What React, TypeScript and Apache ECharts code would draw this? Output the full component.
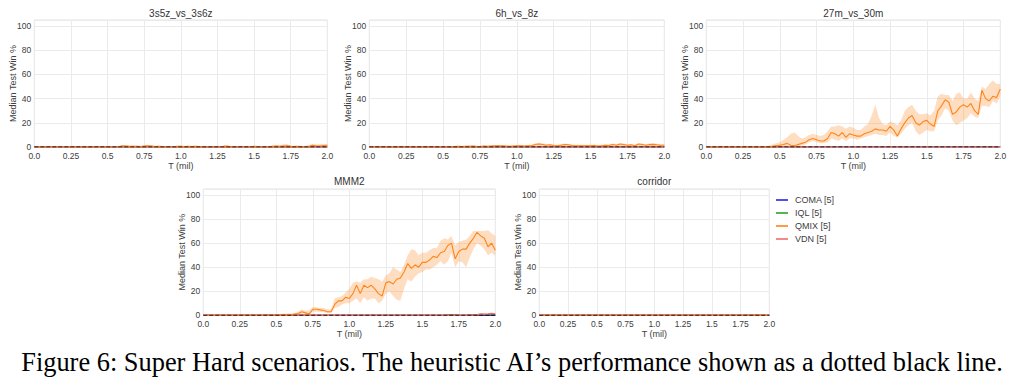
import React, { useEffect, useRef } from "react";
import * as echarts from "echarts";

// ---- data ----
// time axis (million steps), 0.025 spacing
const T_MIL: number[] = Array.from({ length: 81 }, (_, i) => +(i * 0.025).toFixed(3));
const X_TICKS = [0, 0.25, 0.5, 0.75, 1.0, 1.25, 1.5, 1.75, 2.0];
const Y_TICKS = [0, 20, 40, 60, 80, 100];

const PANELS = ["3s5z_vs_3s6z", "6h_vs_8z", "27m_vs_30m", "MMM2", "corridor"];
const ALGOS = ["COMA [5]", "IQL [5]", "QMIX [5]", "VDN [5]"];
const HEURISTIC = [0, 0];

// flat series at zero (these algorithms never win)
const FLAT: number[] = new Array(81).fill(0);

// QMIX median / band per scenario
const QMIX_3S5Z = [
  0, 0, 0, 0, 0, 0, 0, 0, 0, 0,
  0.3, 0, 0, 0, 0, 0, 0, 0, 0, 0,
  0.3, 0, 0, 0, 1, 0.8, 0.5, 0.5, 0.5, 0.3,
  0.7, 1, 0.8, 0.3, 0.5, 0.3, 0, 0, 0, 0.5,
  0.5, 0.3, 0.5, 0.3, 0.5, 0.3, 0, 0, 0, 0,
  0, 0, 0.7, 0.5, 0, 0, 0, 0, 0, 0,
  0.5, 0.3, 0, 0, 0, 0.5, 0.7, 0.5, 0.8, 1,
  0.5, 0.3, 0.5, 0, 0.3, 0.5, 1.5, 1, 0.8, 1.2,
  1.5,
];
const QMIX_3S5Z_HI = [
  0, 0, 0, 0, 0, 0, 0, 0, 0, 0.3,
  0.6, 0.3, 0, 0, 0, 0, 0, 0, 0, 0.3,
  0.6, 0.3, 0, 0.5, 1.6, 1.4, 1, 1, 1, 0.8,
  1.3, 1.6, 1.4, 0.8, 1, 0.8, 0.4, 0.3, 0.5, 1,
  1, 0.8, 1, 0.8, 1, 0.8, 0.3, 0.3, 0.3, 0.5,
  0.5, 0.5, 1.3, 1, 0.5, 0.3, 0.3, 0.3, 0.3, 0.5,
  1, 0.8, 0.5, 0.5, 0.8, 1.2, 1.4, 1.5, 2.2, 2.5,
  1.5, 1, 1.3, 0.8, 1, 1.5, 2.5, 2, 2.2, 2.5,
  2.5,
];
const QMIX_6H = [
  0, 0, 0, 0, 0, 0, 0, 0, 0, 0,
  0, 0, 0, 0, 0, 0, 0, 0, 0, 0,
  0, 0, 0.2, 0.3, 0.5, 0.3, 0.5, 0.5, 0.8, 0.5,
  0.3, 0.8, 0.5, 0.8, 1, 1, 1, 0.8, 0.5, 0.8,
  1, 1, 0.8, 1, 1, 2, 2.5, 2, 1.5, 1.8,
  1.2, 1, 1.5, 2, 1.8, 1.2, 1, 1, 1, 1,
  1, 1.2, 0.8, 1, 1.5, 1.2, 2, 1.5, 2.5, 2,
  1.5, 1.8, 1, 2.5, 2, 1.5, 2, 2.2, 1.8, 1.5,
  1.5,
];
const QMIX_6H_HI = [
  0, 0, 0, 0, 0, 0, 0, 0, 0, 0,
  0, 0, 0, 0, 0, 0, 0, 0, 0, 0,
  0, 0.3, 0.5, 0.8, 1, 0.8, 1, 1, 1.3, 1,
  0.8, 1.3, 1, 1.3, 1.6, 1.6, 1.5, 1.3, 1, 1.3,
  1.6, 1.6, 1.4, 1.6, 1.8, 3, 3.5, 3, 2.5, 2.5,
  2, 1.8, 2.2, 2.8, 2.5, 2, 1.8, 1.8, 1.8, 1.8,
  1.8, 2, 1.5, 1.8, 2.2, 2, 2.8, 2.5, 3.2, 2.8,
  2.3, 2.5, 1.8, 3.2, 2.8, 2.3, 2.8, 3, 2.6, 2.3,
  2.3,
];
const QMIX_27M = [
  0, 0, 0, 0, 0, 0, 0, 0, 0, 0,
  0, 0, 0, 0, 0, 0, 0, 0, 0.5, 1,
  1.5, 2, 3, 1.5, 1, 2, 3, 4, 6, 7,
  6, 5, 5, 7, 12, 11, 9, 12, 8, 11,
  10, 9, 9, 11, 12, 13, 15, 14, 14, 13,
  17, 14, 9, 15, 20, 24, 26, 20, 18, 21,
  22, 19, 17, 30, 34, 39, 37, 27, 29, 33,
  35, 33, 36, 30, 27, 47, 40, 38, 42, 41,
  48,
];
const QMIX_27M_HI = [
  0, 0, 0, 0, 0, 0, 0, 0, 0, 0,
  0, 0, 0, 0, 0, 0, 0.5, 1, 2, 3,
  4, 6, 8, 11, 12, 9, 7, 8, 10, 11,
  10, 9, 10, 13, 17, 17, 18, 17, 15, 17,
  16, 14, 14, 17, 19, 26, 35, 24, 19, 18,
  21, 20, 18, 22, 30, 33, 35, 30, 27, 27,
  28, 26, 30, 42, 44, 43, 43, 38, 44, 45,
  40, 40, 45, 40, 38, 50, 48, 52, 55, 52,
  52,
];
const QMIX_27M_LO = [
  0, 0, 0, 0, 0, 0, 0, 0, 0, 0,
  0, 0, 0, 0, 0, 0, 0, 0, 0, 0,
  0, 0.5, 1, 0, 0, 0.5, 1, 2, 4, 5,
  4, 3, 3, 4, 7, 6, 5, 7, 5, 7,
  7, 6, 7, 8, 9, 10, 11, 10, 10, 9,
  12, 9, 8, 11, 15, 18, 20, 13, 10, 12,
  14, 13, 13, 22, 26, 32, 30, 22, 18, 20,
  22, 24, 28, 25, 24, 34, 34, 33, 38, 36,
  42,
];
const QMIX_MMM2 = [
  0, 0, 0, 0, 0, 0, 0, 0, 0, 0,
  0, 0, 0, 0, 0, 0, 0, 0, 0, 0,
  0, 0.3, 0.5, 0.5, 0.5, 1, 1.5, 3, 2, 1,
  5, 5, 4.5, 4, 3, 3, 9, 12, 12, 15,
  14, 18, 25, 18, 25, 23, 25, 22, 18, 16,
  27, 28, 26, 30, 31, 36, 43, 39, 42, 40,
  44, 44, 46, 49, 48, 52, 53, 58, 60, 47,
  53, 55, 55, 60, 64, 69, 66, 64, 57, 60,
  54,
];
const QMIX_MMM2_HI = [
  0, 0, 0, 0, 0, 0, 0, 0, 0, 0,
  0, 0, 0, 0, 0, 0, 0.5, 1, 1, 1,
  1, 1, 1.5, 1.5, 1.5, 2, 3, 5, 4, 4,
  7, 7, 6, 6, 5, 5, 14, 15, 16, 19,
  22, 27, 28, 27, 30, 30, 32, 31, 30, 28,
  33, 35, 40, 38, 36, 42, 50, 55, 54, 50,
  52, 52, 54, 56, 56, 62, 64, 63, 66, 58,
  61, 62, 63, 66, 70, 70, 70, 70, 71, 68,
  66,
];
const QMIX_MMM2_LO = [
  0, 0, 0, 0, 0, 0, 0, 0, 0, 0,
  0, 0, 0, 0, 0, 0, 0, 0, 0, 0,
  0, 0, 0, 0, 0, 0.3, 0.5, 1.5, 1, 0.5,
  3, 3, 3, 2.5, 2, 2, 6, 7, 9, 10,
  10, 12, 14, 10, 15, 12, 14, 14, 10, 12,
  18, 20, 16, 13, 12, 22, 30, 28, 32, 35,
  36, 38, 38, 40, 42, 45, 42, 45, 52, 40,
  45, 44, 40, 48, 55, 60, 58, 55, 50, 52,
  50,
];
const QMIX_CORRIDOR = [
  0, 0, 0, 0, 0, 0, 0, 0, 0, 0,
  0, 0, 0, 0, 0, 0, 0, 0, 0, 0,
  0, 0, 0, 0, 0, 0, 0, 0, 0, 0,
  0, 0, 0, 0, 0, 0, 0, 0, 0, 0,
  0, 0, 0, 0, 0, 0, 0, 0, 0, 0,
  0, 0, 0, 0, 0, 0, 0, 0, 0, 0,
  0, 0, 0, 0, 0, 0, 0, 0, 0, 0,
  0, 0, 0, 0, 0.3, 0.5, 0.3, 0, 0, 0,
  0,
];
const IQL_MMM2 = [
  0, 0, 0, 0, 0, 0, 0, 0, 0, 0,
  0, 0, 0, 0, 0, 0, 0, 0, 0, 0,
  0, 0, 0, 0, 0, 0, 0, 0, 0, 0,
  0, 0, 0, 0, 0, 0, 0, 0, 0, 0,
  0, 0, 0, 0, 0, 0, 0, 0, 0, 0,
  0, 0, 0, 0, 0, 0, 0, 0, 0, 0,
  0, 0, 0, 0, 0, 0, 0, 0.3, 0.5, 0.3,
  0, 0, 0, 0.3, 0.5, 0.3, 0.5, 0.8, 0.5, 0.8,
  0.5,
];
const VDN_MMM2 = [
  0, 0, 0, 0, 0, 0, 0, 0, 0, 0,
  0, 0, 0, 0, 0, 0, 0, 0, 0, 0,
  0, 0, 0, 0, 0, 0, 0, 0, 0, 0,
  0, 0, 0, 0, 0, 0, 0, 0, 0, 0,
  0, 0, 0, 0, 0, 0, 0, 0, 0, 0,
  0, 0, 0, 0, 0, 0, 0, 0, 0, 0,
  0, 0, 0, 0, 0, 0, 0, 0, 0, 0,
  0, 0, 0, 0.3, 0.3, 0.5, 1, 0.8, 1, 1.5,
  1,
];

type PanelData = {
  qmix: number[];
  hi: number[];
  lo: number[];
  iql: number[];
  vdn: number[];
};
const PANEL_DATA: PanelData[] = [
  { qmix: QMIX_3S5Z, hi: QMIX_3S5Z_HI, lo: FLAT, iql: FLAT, vdn: FLAT },
  { qmix: QMIX_6H, hi: QMIX_6H_HI, lo: FLAT, iql: FLAT, vdn: FLAT },
  { qmix: QMIX_27M, hi: QMIX_27M_HI, lo: QMIX_27M_LO, iql: FLAT, vdn: FLAT },
  { qmix: QMIX_MMM2, hi: QMIX_MMM2_HI, lo: QMIX_MMM2_LO, iql: IQL_MMM2, vdn: VDN_MMM2 },
  { qmix: QMIX_CORRIDOR, hi: QMIX_CORRIDOR, lo: FLAT, iql: FLAT, vdn: FLAT },
];

const CAPTION =
  "Figure 6: Super Hard scenarios. The heuristic AI\u2019s performance shown as a dotted black line.";

// ---- layout / style ----
const GRIDS = [
  { left: 34.3, top: 20, width: 293, height: 127 },
  { left: 369.3, top: 20, width: 295, height: 127 },
  { left: 706.3, top: 20, width: 294, height: 127 },
  { left: 203.3, top: 189, width: 292, height: 126.3 },
  { left: 539.3, top: 189, width: 230, height: 126.3 },
];
const COLORS: Record<string, string> = {
  "COMA [5]": "#2424e8",
  "IQL [5]": "#2ca02c",
  "QMIX [5]": "#ff8518",
  "VDN [5]": "#f26b6b",
};
const TEXT = "#404040";
const FONT = "Liberation Sans, Arial, sans-serif";

const pair = (ys: number[]) => T_MIL.map((t, i) => [t, ys[i]]);

function bandSeries(i: number, lo: number[], hi: number[]) {
  return {
    type: "custom",
    name: "band-" + i,
    xAxisIndex: i,
    yAxisIndex: i,
    silent: true,
    z: 1,
    data: [[0, 0]],
    renderItem: (_params: any, api: any) => {
      const pts: number[][] = [];
      for (let k = 0; k < T_MIL.length; k++) pts.push(api.coord([T_MIL[k], hi[k]]));
      for (let k = T_MIL.length - 1; k >= 0; k--) pts.push(api.coord([T_MIL[k], lo[k]]));
      return {
        type: "polygon",
        shape: { points: pts },
        style: { fill: "rgba(255,150,60,0.32)", stroke: "none" },
      };
    },
  };
}

function buildOption() {
  const grid = GRIDS.map((g) => ({
    ...g,
    show: true,
    borderColor: "#e2e2e2",
    borderWidth: 1,
    containLabel: false,
  }));
  const xAxis = GRIDS.map((_, i) => ({
    type: "value",
    gridIndex: i,
    min: 0,
    max: 2,
    interval: 0.25,
    name: "T (mil)",
    nameLocation: "middle",
    nameGap: 14,
    nameMoveOverlap: false,
    nameTextStyle: { fontSize: 9, color: TEXT, fontFamily: FONT },
    axisLine: { show: false },
    axisTick: { show: false },
    axisLabel: {
      fontSize: 8.5,
      color: TEXT,
      fontFamily: FONT,
      margin: 4,
      formatter: (v: number) => (X_TICKS.includes(v) && Math.abs(v * 2 - Math.round(v * 2)) < 1e-9 ? v.toFixed(1) : String(v)),
    },
    splitLine: { show: true, lineStyle: { color: "#ebebeb", width: 1 } },
  }));
  const yAxis = GRIDS.map((_, i) => ({
    type: "value",
    gridIndex: i,
    min: 0,
    max: 105,
    interval: 20,
    name: "Median Test Win %",
    nameLocation: "middle",
    nameGap: 17,
    nameMoveOverlap: false,
    nameTextStyle: { fontSize: 9, color: TEXT, fontFamily: FONT },
    axisLine: { show: false },
    axisTick: { show: false },
    axisLabel: {
      fontSize: 8.5,
      color: TEXT,
      fontFamily: FONT,
      margin: 3,
      showMaxLabel: false,
      formatter: (v: number) => (Y_TICKS.includes(v) ? String(v) : ""),
    },
    splitLine: { show: true, lineStyle: { color: "#ebebeb", width: 1 } },
  }));

  const series: any[] = [];
  PANEL_DATA.forEach((d, i) => {
    const base = { type: "line", xAxisIndex: i, yAxisIndex: i, showSymbol: false, symbol: "none", silent: true };
    series.push(bandSeries(i, d.lo, d.hi));
    series.push({ ...base, name: "COMA [5]", data: pair(FLAT), color: COLORS["COMA [5]"], lineStyle: { width: 1.2 }, z: 2 });
    series.push({ ...base, name: "IQL [5]", data: pair(d.iql), color: COLORS["IQL [5]"], lineStyle: { width: 1.2 }, z: 3 });
    series.push({ ...base, name: "QMIX [5]", data: pair(d.qmix), color: COLORS["QMIX [5]"], lineStyle: { width: 1.1 }, z: 5 });
    series.push({ ...base, name: "VDN [5]", data: pair(d.vdn), color: COLORS["VDN [5]"], lineStyle: { width: 1.5 }, z: 4 });
    series.push({
      ...base,
      name: "heuristic-" + i,
      data: [[0, HEURISTIC[0]], [2, HEURISTIC[1]]],
      color: "#000",
      lineStyle: { width: 1, type: [4, 2], color: "#000" },
      z: 6,
    });
  });

  const title: any[] = PANELS.map((p, i) => {
    const g = GRIDS[i];
    return {
      text: p,
      left: g.left + g.width / 2,
      top: i < 3 ? 8 : 176,
      textAlign: "center",
      textStyle: { fontSize: 10, fontWeight: "normal", color: "#333", fontFamily: FONT },
      padding: 0,
    };
  });
  title.push({
    text: CAPTION,
    left: 512,
    top: 349,
    textAlign: "center",
    padding: 0,
    textStyle: { fontSize: 26.4, fontWeight: "normal", color: "#000", fontFamily: "Liberation Serif, Times New Roman, serif" },
  });

  return {
    animation: false,
    backgroundColor: "#fff",
    title,
    grid,
    xAxis,
    yAxis,
    legend: {
      data: ALGOS.map((a) => ({ name: a, itemStyle: { color: COLORS[a], opacity: 0.8 } })),
      orient: "vertical",
      left: 776,
      top: 195,
      icon: "rect",
      itemWidth: 12,
      itemHeight: 2,
      itemGap: 3,
      padding: 0,
      selectedMode: false,
      textStyle: { fontSize: 9, color: TEXT, fontFamily: FONT, lineHeight: 10, padding: [0, 0, 0, 2] },
    },
    series,
  };
}

export default function App() {
  const ref = useRef<HTMLDivElement>(null);
  useEffect(() => {
    if (!ref.current) return;
    const chart = echarts.init(ref.current, undefined, { renderer: "svg" });
    chart.setOption(buildOption() as any);
    return () => chart.dispose();
  }, []);
  return (
    <div
      ref={ref}
      style={{ position: "absolute", left: 0, top: 0, width: 1012, height: 385, background: "#fff" }}
    />
  );
}
